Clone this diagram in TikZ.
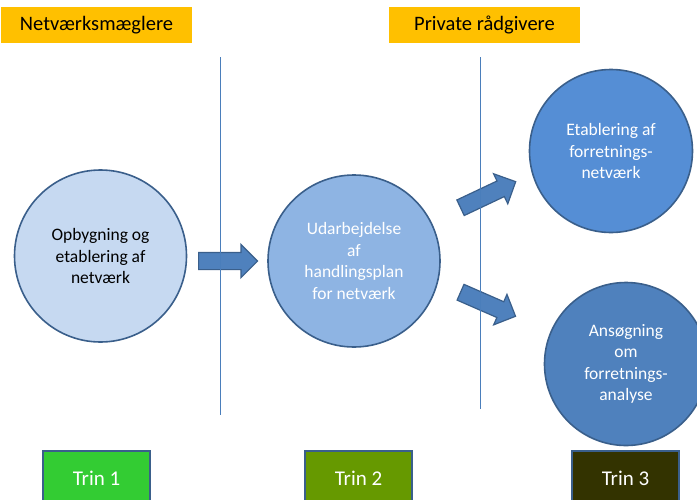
\documentclass[tikz,border=0pt]{standalone}
\usepackage{fontspec}
\setmainfont{Carlito}
\usetikzlibrary{shapes.arrows}
\definecolor{hdr}{HTML}{FFC000}
\definecolor{cA}{HTML}{C6D9F1}
\definecolor{cB}{HTML}{8EB4E3}
\definecolor{cC}{HTML}{558ED5}
\definecolor{cD}{HTML}{4F81BD}
\definecolor{edge}{HTML}{3A5F8B}
\definecolor{vline}{HTML}{4A7EBB}
\definecolor{t1}{HTML}{33CC33}
\definecolor{t2}{HTML}{669900}
\definecolor{t3}{HTML}{333300}
\tikzset{
  hdrbox/.style={fill=hdr, draw=none, minimum width=191pt, minimum height=36pt, inner sep=0pt,
    font=\fontsize{20.5}{25}\selectfont, text=black},
  bubble/.style={circle, draw=edge, line width=1.6pt, inner sep=0pt, align=center,
    font=\fontsize{17.5}{21.5}\selectfont},
  fatarrow/.style={single arrow, fill=cD, draw=edge, line width=1.2pt, minimum width=32pt,
    single arrow head extend=8pt, single arrow tip angle=90, inner xsep=0pt, inner ysep=8pt,
    anchor=tail},
  trinbox/.style={draw=edge, line width=1.4pt, minimum width=107pt, minimum height=54pt,
    inner sep=0pt, text=white, font=\fontsize{21}{25}\selectfont},
  sep/.style={draw=vline, line width=0.9pt}
}
\begin{document}
\begin{tikzpicture}[x=1pt,y=-1pt]
\useasboundingbox (0,0) rectangle (697,499);
\clip (0,0) rectangle (697,499);
\fill[white] (0,0) rectangle (697,499);
% headers
\node[hdrbox] (h1) at (96.5,25) {Netværksmæglere};
\node[hdrbox] (h2) at (484.5,25) {Private rådgivere};
% separators
\coordinate (s1t) at (220,57);
\coordinate (s1b) at (220,415);
\coordinate (s2t) at (480.5,57);
\coordinate (s2b) at (480.5,409);
% circles
\node[bubble, fill=cA, minimum size=172pt, text=black] (c1) at (100.5,256)
  {Opbygning og\\etablering af\\netværk};
\node[bubble, fill=cB, minimum size=172pt, text=white] (c2) at (354,261)
  {Udarbejdelse\\af\\handlingsplan\\for netværk};
\node[bubble, fill=cC, minimum size=163pt, text=white] (c3) at (611,151)
  {Etablering af\\forretnings-\\netværk};
\node[bubble, fill=cD, minimum size=163pt, text=white] (c4) at (626,364)
  {Ansøgning\\om\\forretnings-\\analyse};
% arrows
\node[fatarrow, minimum height=59pt] (a1) at (198,261) {};
\node[fatarrow, minimum height=61pt, rotate=25.3] (a2) at (460,208) {};
\node[fatarrow, minimum height=60pt, rotate=-23.6] (a3) at (460,292) {};
% separator lines drawn over arrows
\draw[sep] (s1t) -- (s1b);
\draw[sep] (s2t) -- (s2b);
% steps
\node[trinbox, fill=t1] (tr1) at (96.5,478) {Trin 1};
\node[trinbox, fill=t2] (tr2) at (358.5,478) {Trin 2};
\node[trinbox, fill=t3] (tr3) at (625.5,478) {Trin 3};
\end{tikzpicture}
\end{document}
